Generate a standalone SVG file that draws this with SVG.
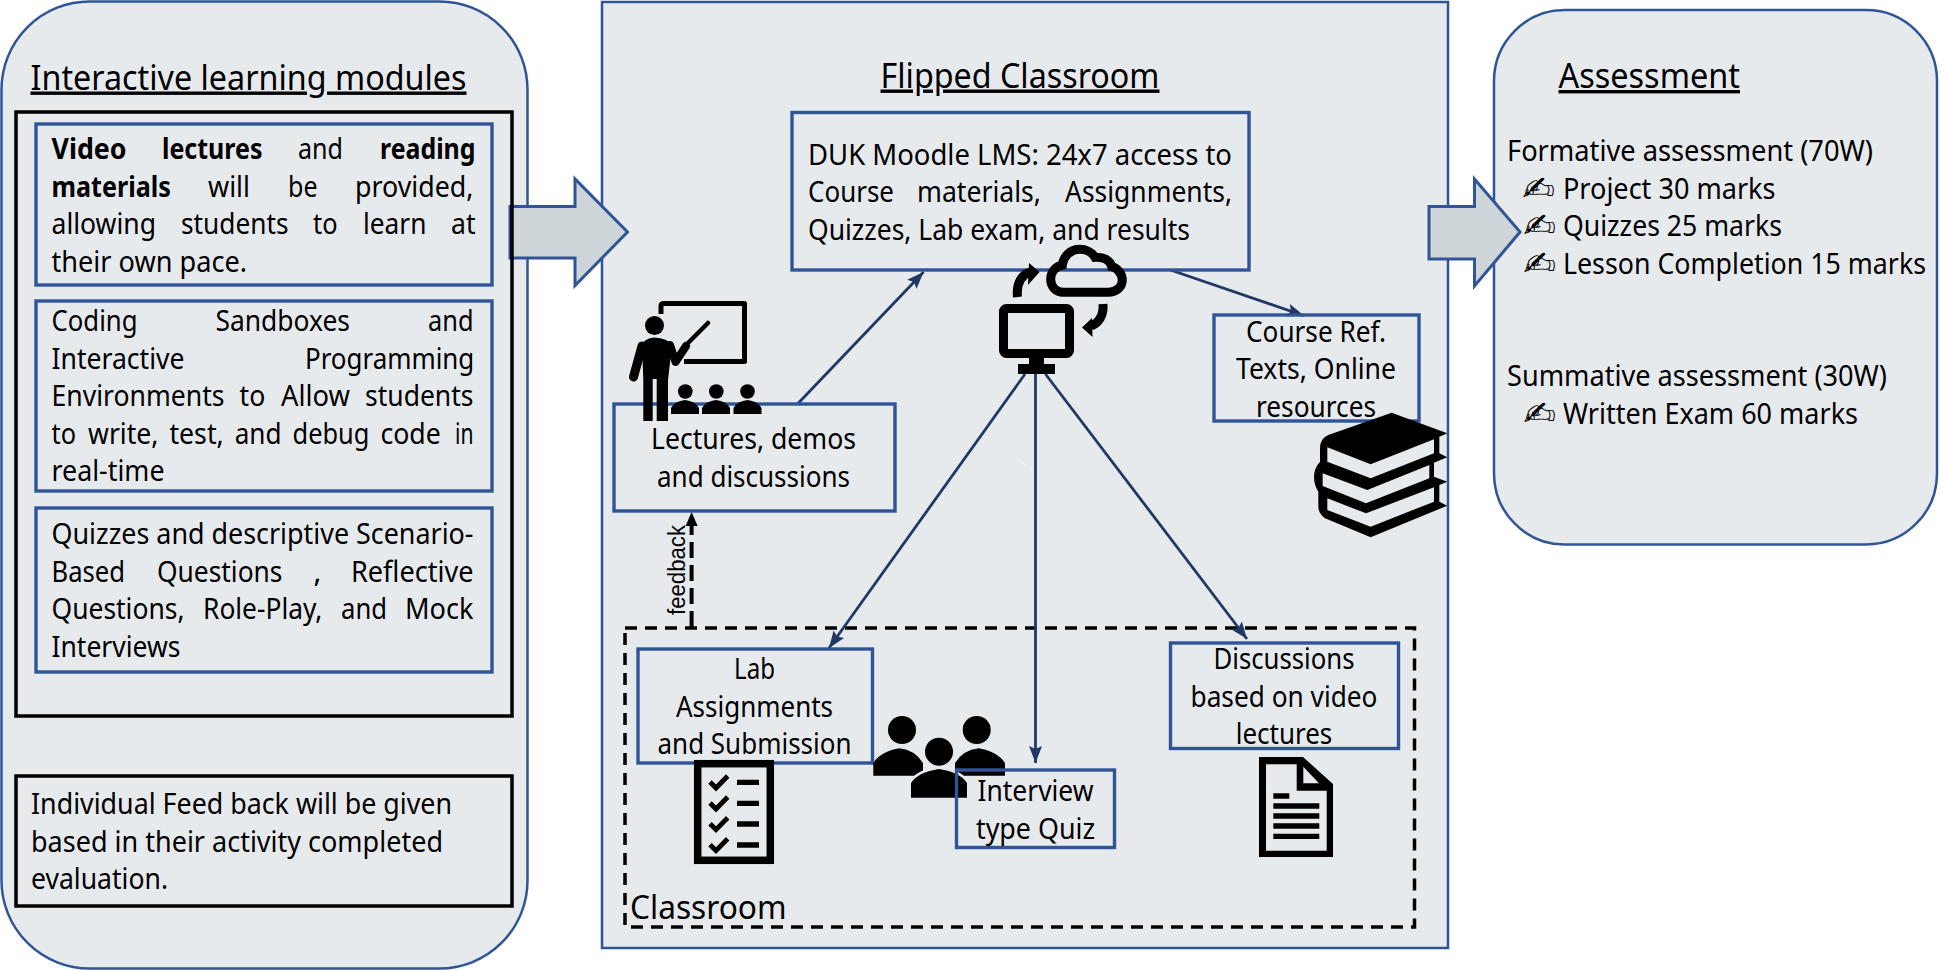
<svg xmlns="http://www.w3.org/2000/svg" width="1946" height="970" viewBox="0 0 1946 970">
<style>
.t{font-family:"Noto Sans","Open Sans",sans-serif;font-size:29px;fill:#000}
.t:not(.h){transform:translateY(.8px)}
.h{font-size:34px;text-decoration:underline}
.c{text-anchor:middle}
.b{font-weight:700}
.panel{fill:#e7eaed;stroke:#2f5597;stroke-width:2.5}
.box{fill:none;stroke:#2f5597;stroke-width:3.4}
.kbox{fill:none;stroke:#000;stroke-width:3.5}
.bigarrow{fill:#ced5d9;stroke:#2f5597;stroke-width:3}
.conn{fill:none;stroke:#203864;stroke-width:2.8;marker-end:url(#ah)}
.ink{fill:#000}
.inkl{fill:none;stroke:#000}
.bg{fill:#e7eaed}
</style>
<defs>
<marker id="ah" markerUnits="userSpaceOnUse" markerWidth="18" markerHeight="16" refX="17" refY="8" orient="auto"><path d="M0 1.5L17 8L0 14.5L3 8Z" fill="#203864"/></marker>
<marker id="ak" markerUnits="userSpaceOnUse" markerWidth="16" markerHeight="14" refX="14" refY="7" orient="auto"><path d="M0 1L14 7L0 13Z" fill="#000"/></marker>
</defs>
<rect width="1946" height="970" fill="#fff"/>

<g id="panel-modules"><rect class="panel" x="1.5" y="1.5" width="526" height="967" rx="88" ry="88"/></g>
<g id="panel-flipped"><rect class="panel" x="602" y="2" width="846" height="946"/></g>
<g id="panel-assessment"><rect class="panel" x="1494" y="10" width="443" height="534.5" rx="71" ry="71"/></g>

<g id="arrow-left"><path class="bigarrow" d="M510 206.5H575V179L627.5 232L575 285.5V258H510Z"/></g>
<g id="arrow-right"><path class="bigarrow" d="M1429 206.5H1474.5V179L1520 232L1474.5 286V259H1429Z"/></g>

<g id="modules-content">
<text class="t h" x="30.5" y="89.5" textLength="436" lengthAdjust="spacingAndGlyphs">Interactive learning modules</text>
<rect class="kbox" x="16" y="112" width="496" height="604"/>
<rect class="box" x="36" y="124" width="456" height="161"/>
<rect class="box" x="36" y="301" width="456" height="190"/>
<rect class="box" x="36" y="508" width="456" height="164"/>
<rect class="kbox" x="16" y="776" width="496" height="130"/>
</g>

<g id="node-video">
<text class="t"><tspan class="b" x="51.5" y="158" textLength="75" lengthAdjust="spacingAndGlyphs">Video</tspan> <tspan class="b" x="162" y="158" textLength="100.5" lengthAdjust="spacingAndGlyphs">lectures</tspan> <tspan x="298" y="158" textLength="45" lengthAdjust="spacingAndGlyphs">and</tspan> <tspan class="b" x="380" y="158" textLength="95.5" lengthAdjust="spacingAndGlyphs">reading</tspan></text>
<text class="t"><tspan class="b" x="51.5" y="196" textLength="119.5" lengthAdjust="spacingAndGlyphs">materials</tspan> <tspan x="208" y="196" textLength="42" lengthAdjust="spacingAndGlyphs">will</tspan> <tspan x="288" y="196" textLength="29.5" lengthAdjust="spacingAndGlyphs">be</tspan> <tspan x="355" y="196" textLength="118.5" lengthAdjust="spacingAndGlyphs">provided,</tspan></text>
<text class="t"><tspan x="51.5" y="233" textLength="104.5" lengthAdjust="spacingAndGlyphs">allowing</tspan> <tspan x="181" y="233" textLength="107.5" lengthAdjust="spacingAndGlyphs">students</tspan> <tspan x="313" y="233" textLength="24.5" lengthAdjust="spacingAndGlyphs">to</tspan> <tspan x="363" y="233" textLength="63.5" lengthAdjust="spacingAndGlyphs">learn</tspan> <tspan x="451" y="233" textLength="24.5" lengthAdjust="spacingAndGlyphs">at</tspan></text>
<text class="t" x="51.5" y="271" textLength="195.5" lengthAdjust="spacingAndGlyphs">their own pace.</text>
</g>

<g id="node-coding">
<text class="t"><tspan x="51.5" y="330" textLength="86" lengthAdjust="spacingAndGlyphs">Coding</tspan> <tspan x="215.5" y="330" textLength="134.5" lengthAdjust="spacingAndGlyphs">Sandboxes</tspan> <tspan x="428" y="330" textLength="45.5" lengthAdjust="spacingAndGlyphs">and</tspan></text>
<text class="t"><tspan x="51.5" y="368" textLength="133" lengthAdjust="spacingAndGlyphs">Interactive</tspan> <tspan x="305" y="368" textLength="169.3" lengthAdjust="spacingAndGlyphs">Programming</tspan></text>
<text class="t"><tspan x="51.5" y="405.5" textLength="173" lengthAdjust="spacingAndGlyphs">Environments</tspan> <tspan x="239.6" y="405.5" textLength="25.7" lengthAdjust="spacingAndGlyphs">to</tspan> <tspan x="281" y="405.5" textLength="69" lengthAdjust="spacingAndGlyphs">Allow</tspan> <tspan x="365" y="405.5" textLength="108.5" lengthAdjust="spacingAndGlyphs">students</tspan></text>
<text class="t"><tspan x="51.5" y="443" textLength="24.5" lengthAdjust="spacingAndGlyphs">to</tspan> <tspan x="88" y="443" textLength="70.4" lengthAdjust="spacingAndGlyphs">write,</tspan> <tspan x="169.4" y="443" textLength="54.3" lengthAdjust="spacingAndGlyphs">test,</tspan> <tspan x="234.7" y="443" textLength="46.9" lengthAdjust="spacingAndGlyphs">and</tspan> <tspan x="292.6" y="443" textLength="76.8" lengthAdjust="spacingAndGlyphs">debug</tspan> <tspan x="380.4" y="443" textLength="60.4" lengthAdjust="spacingAndGlyphs">code</tspan> <tspan x="455" y="443" textLength="18.5" lengthAdjust="spacingAndGlyphs">in</tspan></text>
<text class="t" x="51.5" y="480.5" textLength="113" lengthAdjust="spacingAndGlyphs">real-time</text>
</g>

<g id="node-quizzes">
<text class="t" x="51.5" y="543" textLength="422" lengthAdjust="spacingAndGlyphs">Quizzes and descriptive Scenario-</text>
<text class="t"><tspan x="51.5" y="581" textLength="73.5" lengthAdjust="spacingAndGlyphs">Based</tspan> <tspan x="157" y="581" textLength="125.5" lengthAdjust="spacingAndGlyphs">Questions</tspan> <tspan x="313.5" y="581">,</tspan> <tspan x="351" y="581" textLength="122.5" lengthAdjust="spacingAndGlyphs">Reflective</tspan></text>
<text class="t"><tspan x="51.5" y="618.5" textLength="133" lengthAdjust="spacingAndGlyphs">Questions,</tspan> <tspan x="203" y="618.5" textLength="119.4" lengthAdjust="spacingAndGlyphs">Role-Play,</tspan> <tspan x="341" y="618.5" textLength="46" lengthAdjust="spacingAndGlyphs">and</tspan> <tspan x="405" y="618.5" textLength="68.5" lengthAdjust="spacingAndGlyphs">Mock</tspan></text>
<text class="t" x="51.5" y="656" textLength="129" lengthAdjust="spacingAndGlyphs">Interviews</text>
</g>

<g id="node-feedback">
<text class="t" x="31" y="813" textLength="421" lengthAdjust="spacingAndGlyphs">Individual Feed back will be given</text>
<text class="t" x="31" y="851" textLength="412" lengthAdjust="spacingAndGlyphs">based in their activity completed</text>
<text class="t" x="31" y="888" textLength="137" lengthAdjust="spacingAndGlyphs">evaluation.</text>
</g>

<g id="flipped-title"><text class="t h" x="880.5" y="87.5" textLength="279" lengthAdjust="spacingAndGlyphs">Flipped Classroom</text></g>

<g id="node-classroom">
<rect x="625" y="628" width="789.5" height="299" fill="none" stroke="#000" stroke-width="3.5" stroke-dasharray="12 8"/>
<text class="t" x="630" y="918" style="font-size:33px" textLength="156.5" lengthAdjust="spacingAndGlyphs">Classroom</text>
</g>

<g id="connectors">
<path class="conn" d="M797.5 404L923.6 272"/>
<path class="conn" d="M1170.5 270L1304 315.7"/>
<path class="conn" d="M1025 374L829 648"/>
<path class="conn" d="M1035.5 374V763"/>
<path class="conn" d="M1045.4 374L1247 639"/>
<path fill="none" stroke="#000" stroke-width="4" stroke-dasharray="16 7" marker-end="url(#ak)" d="M691.6 627V512"/>
<path d="M1022.5 462.5L1025.5 466.5" stroke="#fff" stroke-width="1" fill="none"/>
<text transform="translate(685 615) rotate(-90)" x="0" y="0" style="font-family:'Liberation Sans',Arial,sans-serif;font-size:23px" textLength="90" lengthAdjust="spacingAndGlyphs">feedback</text>
</g>

<g id="node-lms">
<rect class="box" x="792" y="112.5" width="457" height="157.5"/>
<text class="t" x="808" y="164" textLength="424" lengthAdjust="spacingAndGlyphs">DUK Moodle LMS: 24x7 access to</text>
<text class="t"><tspan x="808" y="201.5" textLength="86" lengthAdjust="spacingAndGlyphs">Course</tspan> <tspan x="917" y="201.5" textLength="124" lengthAdjust="spacingAndGlyphs">materials,</tspan> <tspan x="1065" y="201.5" textLength="167" lengthAdjust="spacingAndGlyphs">Assignments,</tspan></text>
<text class="t" x="808" y="239" textLength="382" lengthAdjust="spacingAndGlyphs">Quizzes, Lab exam, and results</text>
</g>

<g id="node-lectures">
<rect class="box" x="614" y="404" width="281" height="107"/>
<text class="t c" x="753.5" y="448" textLength="205" lengthAdjust="spacingAndGlyphs">Lectures, demos</text>
<text class="t c" x="753.5" y="486" textLength="193" lengthAdjust="spacingAndGlyphs">and discussions</text>
</g>

<g id="node-course">
<rect class="box" x="1214" y="315" width="205" height="106"/>
<text class="t c" x="1316" y="341" textLength="140" lengthAdjust="spacingAndGlyphs">Course Ref.</text>
<text class="t c" x="1316" y="378.5" textLength="160" lengthAdjust="spacingAndGlyphs">Texts, Online</text>
<text class="t c" x="1316" y="416" textLength="120" lengthAdjust="spacingAndGlyphs">resources</text>
</g>

<g id="node-lab">
<rect class="box" x="638" y="649" width="234.5" height="114"/>
<text class="t c" x="754.5" y="678" textLength="41" lengthAdjust="spacingAndGlyphs">Lab</text>
<text class="t c" x="754.5" y="716" textLength="157" lengthAdjust="spacingAndGlyphs">Assignments</text>
<text class="t c" x="754.5" y="753" textLength="194" lengthAdjust="spacingAndGlyphs">and Submission</text>
</g>

<g id="icon-people">
<path class="ink" d="M873.3 775.7V763Q880 752 899.3 748.3Q915 750 923 763V775.7Z"/>
<path class="ink" d="M1005 775.7V763Q998 752 978.7 748.3Q963 750 955 763V775.7Z"/>
<circle class="ink" cx="902" cy="730" r="14"/>
<circle class="ink" cx="976.7" cy="730" r="14"/>
<path class="bg" stroke="#e7eaed" stroke-width="5" d="M911 797.7V783Q918 772 939 769Q960 772 967 783V797.7Z"/>
<circle class="bg" stroke="#e7eaed" stroke-width="5" cx="939" cy="751.7" r="14"/>
<path class="ink" d="M911 797.7V783Q918 772 939 769Q960 772 967 783V797.7Z"/>
<circle class="ink" cx="939" cy="751.7" r="14"/>
</g>

<g id="node-interview">
<rect class="box" x="956.5" y="770" width="158" height="77.5"/>
<text class="t c" x="1035.5" y="800" textLength="116" lengthAdjust="spacingAndGlyphs">Interview</text>
<text class="t c" x="1035.5" y="838" textLength="119" lengthAdjust="spacingAndGlyphs">type Quiz</text>
</g>

<g id="node-discussions">
<rect class="box" x="1170.5" y="643" width="228" height="105.5"/>
<text class="t c" x="1284" y="668" textLength="141" lengthAdjust="spacingAndGlyphs">Discussions</text>
<text class="t c" x="1284" y="706" textLength="187" lengthAdjust="spacingAndGlyphs">based on video</text>
<text class="t c" x="1284" y="743" textLength="96.5" lengthAdjust="spacingAndGlyphs">lectures</text>
</g>

<g id="icon-cloud">
<path class="inkl" stroke-width="9" d="M1063.3 292.3H1108.3C1116.7 292.3 1122.3 286.7 1122.3 280C1122.3 273.3 1116.7 267.7 1111.7 266.7C1110 260 1103.3 256.7 1095 257.3C1091.7 251.7 1085 249.3 1080 249.3C1070 249.3 1063.3 256.7 1062.3 265C1055 266.7 1050.7 272.7 1050.7 279.3C1050.7 286.7 1056 292.3 1063.3 292.3Z"/>
<path class="inkl" stroke-width="9" d="M1017.5 297C1016 283 1022 274 1031 272"/>
<path class="ink" d="M1029 263L1039.5 272L1028 285Z"/>
<path class="inkl" stroke-width="9" d="M1103 304C1104 316 1098 324 1090 326"/>
<path class="ink" d="M1092 318L1082 327.5L1092.5 337Z"/>
<rect class="inkl" stroke-width="9" x="1003.5" y="308.5" width="66" height="45" rx="3"/>
<rect class="ink" x="1029" y="357" width="15" height="8"/>
<rect class="ink" x="1018" y="364" width="37" height="10"/>
</g>

<g id="icon-teacher">
<path class="inkl" stroke-width="5" stroke-linejoin="round" d="M661 314V306Q661 303.5 664 303.5H744.5V361.5H684"/>
<circle class="ink" cx="654.5" cy="325.5" r="9.5"/>
<path class="ink" d="M642 345Q643 339 654 337.5Q668 338 672 345L668 380V421H656.7V379H652.7V421H643.3V380Z"/>
<path class="inkl" stroke-width="9" stroke-linecap="round" stroke-linejoin="round" d="M642 346L633.5 377"/>
<path class="inkl" stroke-width="8" stroke-linecap="round" stroke-linejoin="round" d="M670 345L675.5 362L686 346"/>
<path class="inkl" stroke-width="4.5" stroke-linecap="round" d="M686 345L708 323"/>
<circle class="ink" cx="685.3" cy="391.5" r="7.3"/>
<circle class="ink" cx="716.3" cy="391.5" r="7.3"/>
<circle class="ink" cx="747.5" cy="391.5" r="7.3"/>
<path class="ink" d="M671 414V408Q675 401 685 400Q695 401 699 408V414Z"/>
<path class="ink" d="M702 414V408Q706 401 716 400Q726 401 730 408V414Z"/>
<path class="ink" d="M733.5 414V408Q737.5 401 747.5 400Q757.5 401 761.5 408V414Z"/>
</g>

<g id="icon-books" transform="translate(1310 410) scale(.3333)">
<path class="ink" d="M245 8L412 70L388 80V130L412 142L372 158V200L412 215L388 225V275L412 287L182 382L45 325Q25 310 25 290V245Q12 225 12 200Q12 175 30 155V115Q30 85 55 75Z"/>
<path class="bg" d="M52 112L182 163L372 88V130L182 205L52 155Z"/>
<path class="bg" d="M38 190L172 240L358 165V205L168 280L38 228Z"/>
<path class="bg" d="M52 265L168 310L372 232V275L182 350L52 300Z"/>
</g>

<g id="icon-checklist">
<rect class="inkl" stroke-width="7.5" x="697.7" y="763.7" width="72.6" height="96.6"/>
<path class="inkl" stroke-width="4.8" d="M710 782L716 788L727.7 776M710 803L716 809L727.7 797M710 823.7L716 829.7L727.7 817.7M710 844.7L716 850.7L727.7 838.7"/>
<path class="inkl" stroke-width="5.3" d="M737 782.3H759M737 803.3H759M737 824H759M737 845H759"/>
</g>

<g id="icon-document">
<path class="ink" fill-rule="evenodd" d="M1259 757H1303L1333 784V857H1259ZM1266 764.3V850.7H1326.7V790.7H1296.7V764.3Z"/>
<path class="bg" d="M1303.3 766.7L1319 783.3H1303.3Z"/>
<path class="ink" d="M1273.3 793.3H1289.3V798.7H1273.3ZM1273.3 803.3H1319.3V808.7H1273.3ZM1273.3 813.3H1319.3V818.7H1273.3ZM1273.3 823.3H1319.3V828.7H1273.3ZM1273.3 833.7H1319.3V839H1273.3Z"/>
</g>

<g id="assessment-content">
<text class="t h" x="1558.5" y="88" textLength="181.5" lengthAdjust="spacingAndGlyphs">Assessment</text>
<text class="t" x="1507" y="160.5" textLength="366" lengthAdjust="spacingAndGlyphs">Formative assessment (70W)</text>
<text class="t" x="1522" y="199" style="font-family:'DejaVu Sans',sans-serif;font-size:33px" textLength="33" lengthAdjust="spacingAndGlyphs">✍</text>
<text class="t" x="1563" y="198" textLength="212.5" lengthAdjust="spacingAndGlyphs">Project 30 marks</text>
<text class="t" x="1523" y="236.5" style="font-family:'DejaVu Sans',sans-serif;font-size:33px" textLength="33" lengthAdjust="spacingAndGlyphs">✍</text>
<text class="t" x="1563" y="235.5" textLength="219" lengthAdjust="spacingAndGlyphs">Quizzes 25 marks</text>
<text class="t" x="1523" y="274" style="font-family:'DejaVu Sans',sans-serif;font-size:33px" textLength="33" lengthAdjust="spacingAndGlyphs">✍</text>
<text class="t" x="1563" y="273" textLength="363" lengthAdjust="spacingAndGlyphs">Lesson Completion 15 marks</text>
<text class="t" x="1507" y="385.5" textLength="380" lengthAdjust="spacingAndGlyphs">Summative assessment (30W)</text>
<text class="t" x="1523" y="424" style="font-family:'DejaVu Sans',sans-serif;font-size:33px" textLength="33" lengthAdjust="spacingAndGlyphs">✍</text>
<text class="t" x="1563" y="423" textLength="295" lengthAdjust="spacingAndGlyphs">Written Exam 60 marks</text>
</g>
</svg>
